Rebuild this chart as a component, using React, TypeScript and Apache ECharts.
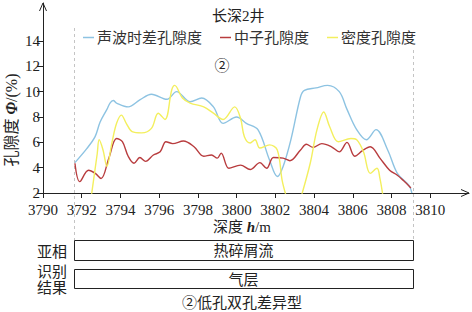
import React, { useEffect, useRef } from 'react';
import * as echarts from 'echarts';

const FONT = "'Liberation Serif', 'Noto Sans CJK SC', serif";

const title = '长深2井';
const seriesNames = ['声波时差孔隙度', '中子孔隙度', '密度孔隙度'];
const seriesColors = ['#8dc3e2', '#b83c3e', '#f3ef5e'];

const xTicks = [3790, 3792, 3794, 3796, 3798, 3800, 3802, 3804, 3806, 3808, 3810];
const yTicks = [2, 4, 6, 8, 10, 12, 14];

// 声波时差孔隙度
const sonicDepth = [3791.65, 3792.26, 3792.69, 3792.95, 3793.3, 3793.46, 3793.63, 3793.8, 3794.4, 3795.0, 3795.6, 3796.4, 3796.9, 3797.6, 3798.2, 3798.8, 3799.3, 3800.0, 3800.5, 3801.1, 3801.7, 3802.1, 3802.4, 3802.8, 3803.3, 3803.5, 3804.1, 3804.7, 3805.3, 3805.7, 3806.2, 3806.7, 3807.2, 3807.8, 3808.3, 3808.9, 3809.05];
const sonicPorosity = [4.4, 5.5, 6.45, 7.6, 8.6, 9.1, 9.3, 9.1, 8.8, 9.35, 9.8, 9.4, 10.0, 9.2, 9.5, 8.8, 7.5, 8.0, 7.5, 7.0, 4.6, 3.3, 4.1, 6.2, 9.6, 10.1, 10.3, 10.5, 10.0, 8.6, 7.0, 6.2, 7.0, 5.4, 3.55, 2.6, 2.0];

// 中子孔隙度
const neutronDepth = [3791.65, 3791.9, 3792.35, 3792.7, 3793.0, 3793.4, 3793.8, 3794.1, 3794.4, 3794.7, 3795.0, 3795.3, 3795.7, 3796.05, 3796.35, 3796.7, 3797.25, 3797.8, 3798.3, 3798.7, 3799.0, 3799.2, 3799.6, 3800.2, 3800.7, 3801.2, 3801.55, 3801.9, 3802.4, 3802.75, 3803.3, 3803.6, 3803.95, 3804.4, 3804.9, 3805.3, 3805.7, 3806.1, 3806.5, 3806.9, 3807.4, 3807.9, 3808.3, 3808.6, 3809.0];
const neutronPorosity = [4.35, 2.9, 3.8, 3.55, 3.15, 4.75, 6.3, 6.05, 4.9, 4.35, 4.8, 4.5, 5.0, 5.25, 6.05, 5.9, 6.1, 5.65, 4.9, 5.0, 4.75, 5.15, 3.95, 4.2, 3.85, 4.4, 3.95, 4.8, 4.75, 4.55, 5.4, 5.85, 5.6, 5.9, 5.65, 5.25, 6.0, 4.9, 5.35, 5.65, 4.75, 3.8, 3.4, 3.0, 2.4];

// 密度孔隙度 (null = below the axis)
const densityDepth = [3792.5, 3792.8, 3792.9, 3793.1, 3793.3, 3793.55, 3793.8, 3794.05, 3794.3, 3794.6, 3795.1, 3795.6, 3795.95, 3796.3, 3796.65, 3796.8, 3797.2, 3797.6, 3798.3, 3798.8, 3799.3, 3799.9, 3800.2, 3800.4, 3800.7, 3800.95, 3801.2, 3801.7, 3802.1, 3802.35, 3802.55, 3803.0, 3803.35, 3803.8, 3804.15, 3804.5, 3804.8, 3805.25, 3805.9, 3806.2, 3806.55, 3806.9, 3807.25, 3807.4, 3807.55];
const densityPorosity = [1.8, 5.1, 6.2, 5.4, 4.1, 5.9, 7.5, 8.15, 7.5, 6.85, 6.75, 7.1, 8.3, 7.8, 10.15, 10.5, 9.5, 9.1, 8.8, 8.3, 7.8, 8.8, 7.9, 6.45, 5.95, 6.2, 5.55, 5.8, 5.4, 3.0, 1.8, null, 1.8, 4.35, 7.0, 8.4, 7.25, 6.05, 6.3, 6.2, 5.25, 3.55, 3.95, 3.15, 1.8];

// 解释带
const intervalStart = 3791.6;
const intervalEnd = 3809.1;
const rowLabels = ['亚相', '识别\n结果'];
const rowValues = ['热碎屑流', '气层'];
const zoneMark = '②';
const caption = '②低孔双孔差异型';

const zip = (a: number[], b: (number | null)[]) => a.map((d, i) => [d, b[i]]);

export default function App() {
  const ref = useRef<HTMLDivElement>(null);
  useEffect(() => {
    const chart = echarts.init(ref.current!, null, { renderer: 'svg' });
    const axisColor = '#222';
    const option: any = {
      animation: false,
      backgroundColor: '#fff',
      textStyle: { fontFamily: FONT },
      title: {
        text: title,
        left: 207,
        top: 3,
        textStyle: { fontSize: 15, fontWeight: 'normal', color: '#222', fontFamily: FONT },
      },
      legend: {
        top: 25,
        left: 78,
        icon: 'rect',
        itemWidth: 11,
        itemHeight: 1.5,
        itemGap: 18,
        textStyle: { fontSize: 15, color: '#333', fontFamily: FONT, padding: [0, 0, 0, -2] },
        data: seriesNames,
      },
      grid: { left: 43, right: 3, top: 3, bottom: 119 },
      xAxis: {
        type: 'value',
        min: 3790,
        max: 3812,
        axisLine: { show: true, lineStyle: { color: axisColor, width: 1 } },
        axisTick: { show: true, customValues: xTicks, length: 5, lineStyle: { color: axisColor } },
        axisLabel: { customValues: xTicks, fontSize: 15, color: '#222', margin: 9, fontFamily: FONT, formatter: (v: number) => String(v) },
        splitLine: { show: false },
      },
      yAxis: {
        type: 'value',
        min: 2,
        max: 17,
        axisLine: { show: true, lineStyle: { color: axisColor, width: 1 } },
        axisTick: { show: true, customValues: yTicks, length: 6, lineStyle: { color: axisColor } },
        axisLabel: { customValues: yTicks, fontSize: 15, color: '#222', margin: 3, fontFamily: FONT, formatter: (v: number) => String(v) },
        splitLine: { show: false },
      },
      series: [
        { name: seriesNames[0], data: zip(sonicDepth, sonicPorosity) },
        { name: seriesNames[1], data: zip(neutronDepth, neutronPorosity) },
        { name: seriesNames[2], data: zip(densityDepth, densityPorosity) },
      ].map((s, i) => ({
        ...s,
        type: 'line',
        smooth: 0.35,
        showSymbol: false,
        symbol: 'none',
        clip: true,
        connectNulls: false,
        color: seriesColors[i],
        lineStyle: { color: seriesColors[i], width: 1.4 },
      })),
    };
    chart.setOption(option);

    const px = (x: number, y: number) => chart.convertToPixel({ gridIndex: 0 }, [x, y]) as number[];
    const [yx, yTop] = px(3790, 17);
    const [xRight, xy] = px(3812, 2);
    const [bx0] = px(intervalStart, 2);
    const [bx1] = px(intervalEnd, 2);
    const mid = (bx0 + bx1) / 2;
    const ts = (extra: any) => ({ fontFamily: FONT, fill: '#222', fontSize: 15, ...extra });

    const graphic: any[] = [
      { type: 'polyline', shape: { points: [[yx - 3.5, yTop + 8], [yx, yTop], [yx + 3.5, yTop + 8]] }, style: { stroke: axisColor, fill: 'none', lineWidth: 1 }, z: 10 },
      { type: 'polyline', shape: { points: [[xRight - 8, xy - 3.5], [xRight, xy], [xRight - 8, xy + 3.5]] }, style: { stroke: axisColor, fill: 'none', lineWidth: 1 }, z: 10 },
      { type: 'line', shape: { x1: Math.round(bx0) + 0.5, y1: 28, x2: Math.round(bx0) + 0.5, y2: 240 }, style: { stroke: '#c4c4c4', lineDash: [3, 3], lineWidth: 1 }, z: -1 },
      { type: 'line', shape: { x1: Math.round(bx1) + 0.5, y1: 50, x2: Math.round(bx1) + 0.5, y2: 240 }, style: { stroke: '#c4c4c4', lineDash: [3, 3], lineWidth: 1 }, z: -1 },
      { type: 'text', x: 222, y: 66, style: ts({ text: zoneMark, align: 'center', verticalAlign: 'middle' }) },
      {
        type: 'text', x: 242, y: 227,
        style: ts({
          text: '深度 {i|h}/m', align: 'center', verticalAlign: 'middle',
          rich: { i: { fontStyle: 'italic', fontWeight: 'bold', fontSize: 15, fontFamily: FONT, fill: '#222' } },
        }),
      },
      {
        type: 'text', x: 11, y: 120, rotation: Math.PI / 2,
        style: ts({
          text: '孔隙度 {i|Φ}/(%)', align: 'center', verticalAlign: 'middle', fontSize: 16,
          rich: { i: { fontStyle: 'italic', fontWeight: 'bold', fontSize: 16, fontFamily: FONT, fill: '#222' } },
        }),
      },
      { type: 'rect', shape: { x: Math.round(bx0) + 0.5, y: 240.5, width: Math.round(bx1 - bx0), height: 20 }, style: { fill: '#fff', stroke: '#222', lineWidth: 1 } },
      { type: 'rect', shape: { x: Math.round(bx0) + 0.5, y: 269.5, width: Math.round(bx1 - bx0), height: 19 }, style: { fill: '#fff', stroke: '#222', lineWidth: 1 } },
      { type: 'text', x: mid, y: 251, style: ts({ text: rowValues[0], align: 'center', verticalAlign: 'middle' }) },
      { type: 'text', x: mid, y: 280, style: ts({ text: rowValues[1], align: 'center', verticalAlign: 'middle' }) },
      { type: 'text', x: 52, y: 252, style: ts({ text: rowLabels[0], align: 'center', verticalAlign: 'middle' }) },
      { type: 'text', x: 52, y: 280, style: ts({ text: rowLabels[1], align: 'center', verticalAlign: 'middle', lineHeight: 16 }) },
      { type: 'text', x: 242, y: 303, style: ts({ text: caption, align: 'center', verticalAlign: 'middle' }) },
    ];
    chart.setOption({ graphic });
    return () => chart.dispose();
  }, []);
  return <div ref={ref} style={{ position: 'fixed', left: 0, top: 0, width: 472, height: 312, background: '#fff' }} />;
}
